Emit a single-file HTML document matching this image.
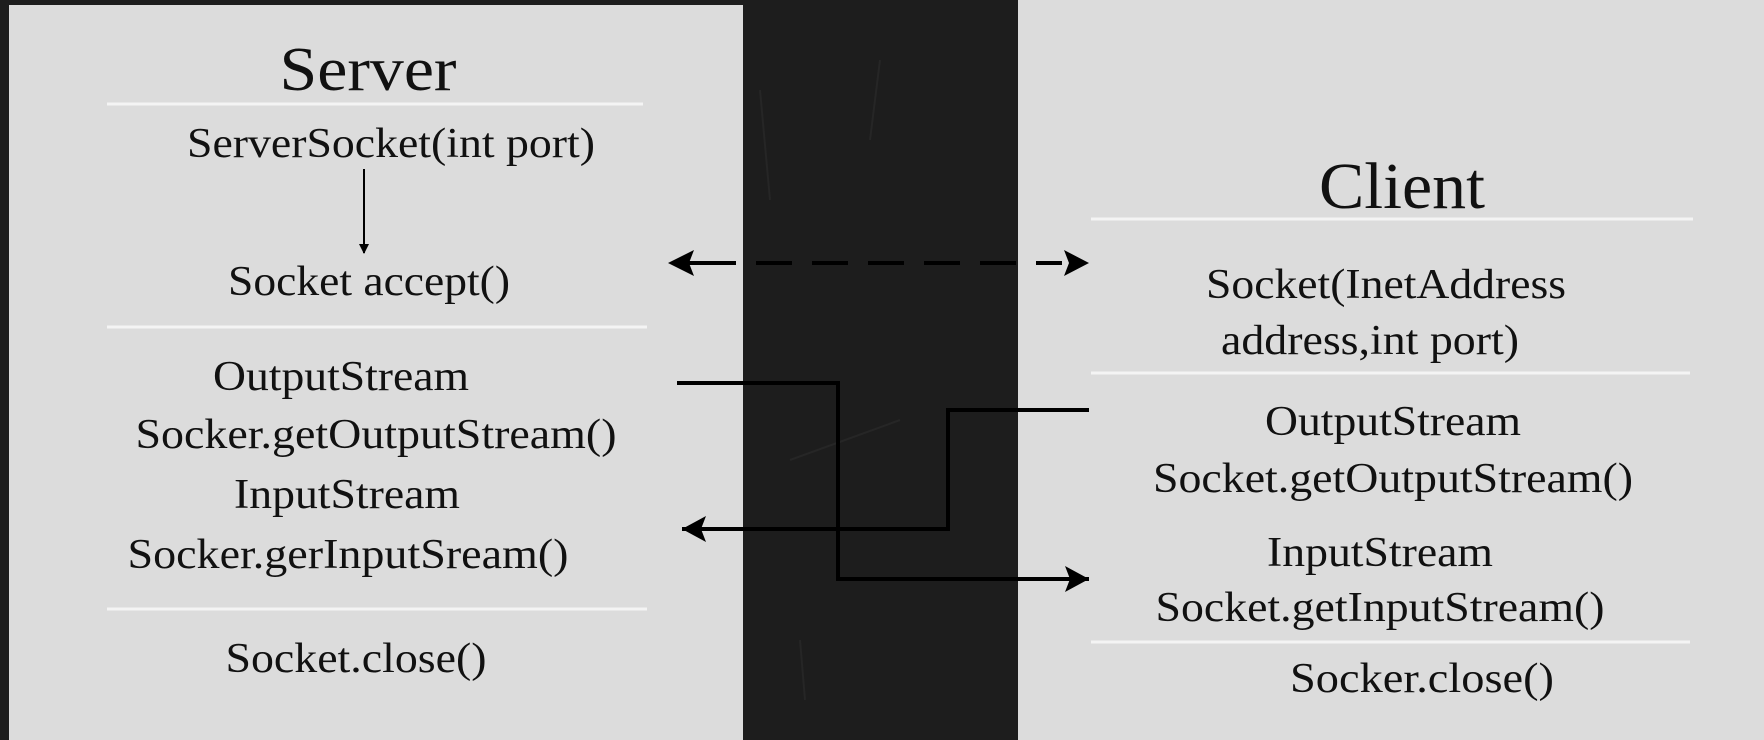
<!DOCTYPE html>
<html><head><meta charset="utf-8"><style>
html,body{margin:0;padding:0;background:#1c1c1c;}
svg{display:block}
text{font-family:"Liberation Serif",serif;fill:#111;}
</style></head><body>
<svg width="1764" height="740" viewBox="0 0 1764 740" xmlns="http://www.w3.org/2000/svg">
<defs>
<marker id="ah" markerWidth="10" markerHeight="10" refX="9" refY="5" orient="auto" markerUnits="userSpaceOnUse">
<path d="M0,0 L10,5 L0,10 Z" fill="#000"/>
</marker>
<marker id="ab" markerWidth="26" markerHeight="26" refX="24" refY="13" orient="auto" markerUnits="userSpaceOnUse">
<path d="M0,0 L24,13 L0,26 L5,13 Z" fill="#000"/>
</marker>
</defs>
<rect x="0" y="0" width="1764" height="740" fill="#1d1d1d"/>
<path d="M760,90 L770,200 M880,60 L870,140 M790,460 L900,420 M800,640 L805,700" stroke="#262626" stroke-width="2" fill="none"/>
<rect x="9" y="5" width="734" height="735" fill="#dcdcdc"/>
<rect x="1018" y="0" width="746" height="740" fill="#dcdcdc"/>
<g stroke="#f4f4f4" stroke-width="3">
<line x1="107" y1="104" x2="643" y2="104"/>
<line x1="107" y1="327" x2="647" y2="327"/>
<line x1="107" y1="609" x2="647" y2="609"/>
<line x1="1091" y1="219" x2="1693" y2="219"/>
<line x1="1091" y1="373" x2="1690" y2="373"/>
<line x1="1091" y1="642" x2="1690" y2="642"/>
</g>
<g text-anchor="middle" font-size="42">
<text x="368" y="90" font-size="62" textLength="177" lengthAdjust="spacingAndGlyphs">Server</text>
<text x="391" y="157" textLength="408" lengthAdjust="spacingAndGlyphs">ServerSocket(int port)</text>
<text x="369" y="295" textLength="282" lengthAdjust="spacingAndGlyphs">Socket accept()</text>
<text x="341" y="390" textLength="256" lengthAdjust="spacingAndGlyphs">OutputStream</text>
<text x="376" y="448" textLength="481" lengthAdjust="spacingAndGlyphs">Socker.getOutputStream()</text>
<text x="347" y="508" textLength="226" lengthAdjust="spacingAndGlyphs">InputStream</text>
<text x="348" y="568" textLength="441" lengthAdjust="spacingAndGlyphs">Socker.gerInputSream()</text>
<text x="356" y="672" textLength="261" lengthAdjust="spacingAndGlyphs">Socket.close()</text>
<text x="1402" y="208" font-size="66" textLength="166" lengthAdjust="spacingAndGlyphs">Client</text>
<text x="1386" y="298" textLength="360" lengthAdjust="spacingAndGlyphs">Socket(InetAddress</text>
<text x="1370" y="354" textLength="298" lengthAdjust="spacingAndGlyphs">address,int port)</text>
<text x="1393" y="435" textLength="256" lengthAdjust="spacingAndGlyphs">OutputStream</text>
<text x="1393" y="492" textLength="480" lengthAdjust="spacingAndGlyphs">Socket.getOutputStream()</text>
<text x="1380" y="566" textLength="226" lengthAdjust="spacingAndGlyphs">InputStream</text>
<text x="1380" y="621" textLength="449" lengthAdjust="spacingAndGlyphs">Socket.getInputStream()</text>
<text x="1422" y="692" textLength="264" lengthAdjust="spacingAndGlyphs">Socker.close()</text>
</g>
<line x1="364" y1="169" x2="364" y2="253" stroke="#000" stroke-width="2" marker-end="url(#ah)"/>
<g stroke="#000" stroke-width="4" fill="none">
<line x1="700" y1="263" x2="1062" y2="263" stroke-dasharray="36,20"/>
<path d="M677,383 H838 V579 H1089" marker-end="url(#ab)"/>
<path d="M1089,410 H948 V529 H682" marker-end="url(#ab)"/>
</g>
<path d="M694,250 L668,263 L694,276 L689,263 Z" fill="#000"/>
<line x1="685" y1="263" x2="705" y2="263" stroke="#000" stroke-width="4"/>
<path d="M1064,250 L1089,263 L1064,276 L1069,263 Z" fill="#000"/>
</svg>
</body></html>
